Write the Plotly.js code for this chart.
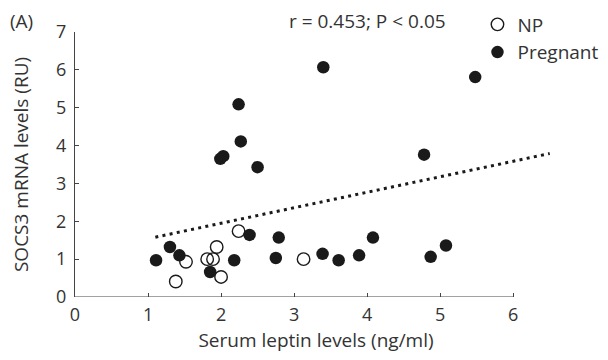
<!DOCTYPE html>
<html>
<head>
<meta charset="utf-8">
<script src="https://cdn.plot.ly/plotly-3.0.1.min.js"></script>
<style>html,body{margin:0;padding:0;background:#fff;}#chart{width:608px;height:360px;}</style>
</head>
<body>
<div id="chart"></div>
<script>
// Non-pregnant (open circles)
const npLeptin = [1.38, 1.52, 1.81, 1.89, 1.94, 2.00, 2.24, 3.13];
const npSocs3  = [0.41, 0.93, 1.00, 1.00, 1.32, 0.53, 1.74, 1.00];
// Pregnant (filled circles)
const pregLeptin = [1.11, 1.30, 1.43, 1.85, 1.99, 2.03, 2.18, 2.24, 2.27, 2.39, 2.50, 2.75, 2.79, 3.39, 3.40, 3.61, 3.89, 4.08, 4.78, 4.87, 5.08, 5.48];
const pregSocs3  = [0.97, 1.32, 1.10, 0.66, 3.65, 3.72, 0.97, 5.09, 4.11, 1.64, 3.43, 1.03, 1.57, 1.14, 6.07, 0.97, 1.10, 1.57, 3.76, 1.06, 1.36, 5.81];
// Regression line end points
const trendX = [1.1, 6.5];
const trendY = [1.58, 3.79];
const xTicks = [0, 1, 2, 3, 4, 5, 6];
const yTicks = [0, 1, 2, 3, 4, 5, 6, 7];
const statText = "r = 0.453; P < 0.05";
const panelLabel = "(A)";

const font = "Open Sans, Noto Sans, sans-serif";
const ink = "#1a1a1a";
const txt = "#333333";

const traces = [
  {x: trendX, y: trendY, mode: "lines", showlegend: false, hoverinfo: "skip",
   line: {color: ink, width: 3, dash: "3px,4.3px"}, cliponaxis: false},
  {x: npLeptin, y: npSocs3, mode: "markers", name: "NP", cliponaxis: false,
   marker: {symbol: "circle-open", size: 12.5, color: ink, line: {width: 1.4, color: ink}}},
  {x: pregLeptin, y: pregSocs3, mode: "markers", name: "Pregnant", cliponaxis: false,
   marker: {symbol: "circle", size: 12.5, color: ink, line: {width: 0}}}
];

const layout = {
  width: 608, height: 360,
  margin: {l: 75, r: 51, t: 32, b: 63, autoexpand: false},
  paper_bgcolor: "#fff", plot_bgcolor: "#fff",
  font: {family: font, color: txt, size: 19},
  showlegend: true,
  legend: {x: 0.835, y: 1.10, xanchor: "left", yanchor: "top", bgcolor: "rgba(0,0,0,0)",
           font: {size: 19, color: txt}, tracegroupgap: 0, itemwidth: 30},
  xaxis: {range: [0, 6.6], tickvals: xTicks, ticktext: xTicks.map(String),
          ticks: "inside", ticklen: 4, tickcolor: "#444", tickwidth: 1,
          showline: false, showgrid: false, zeroline: false,
          ticklabelstandoff: 5,
          tickfont: {size: 18, color: txt},
          title: {text: "Serum leptin levels (ng/ml)", font: {size: 19, color: txt}, standoff: 8}},
  yaxis: {range: [0, 7], tickvals: yTicks, ticktext: yTicks.map(String),
          ticks: "inside", ticklen: 4, tickcolor: "#444", tickwidth: 1,
          showline: true, linecolor: "#444", linewidth: 1, showgrid: false, zeroline: false,
          ticklabelstandoff: 4,
          tickfont: {size: 18, color: txt},
          title: {text: "SOCS3 mRNA levels (RU)", font: {size: 19, color: txt}, standoff: 22}},
  shapes: [
    {type: "line", xref: "x", yref: "y", x0: 0, x1: 6, y0: 0, y1: 0,
     line: {color: "#444", width: 1}}
  ],
  annotations: [
    {text: panelLabel, xref: "paper", yref: "paper", x: -0.14, y: 1.04, xanchor: "left", yanchor: "middle",
     showarrow: false, font: {size: 19, color: txt}},
    {text: statText, xref: "paper", yref: "paper", x: 0.606, y: 1.04, xanchor: "center", yanchor: "middle",
     showarrow: false, font: {size: 19, color: txt}}
  ]
};

Plotly.newPlot("chart", traces, layout, {displayModeBar: false, staticPlot: true});
</script>
</body>
</html>
